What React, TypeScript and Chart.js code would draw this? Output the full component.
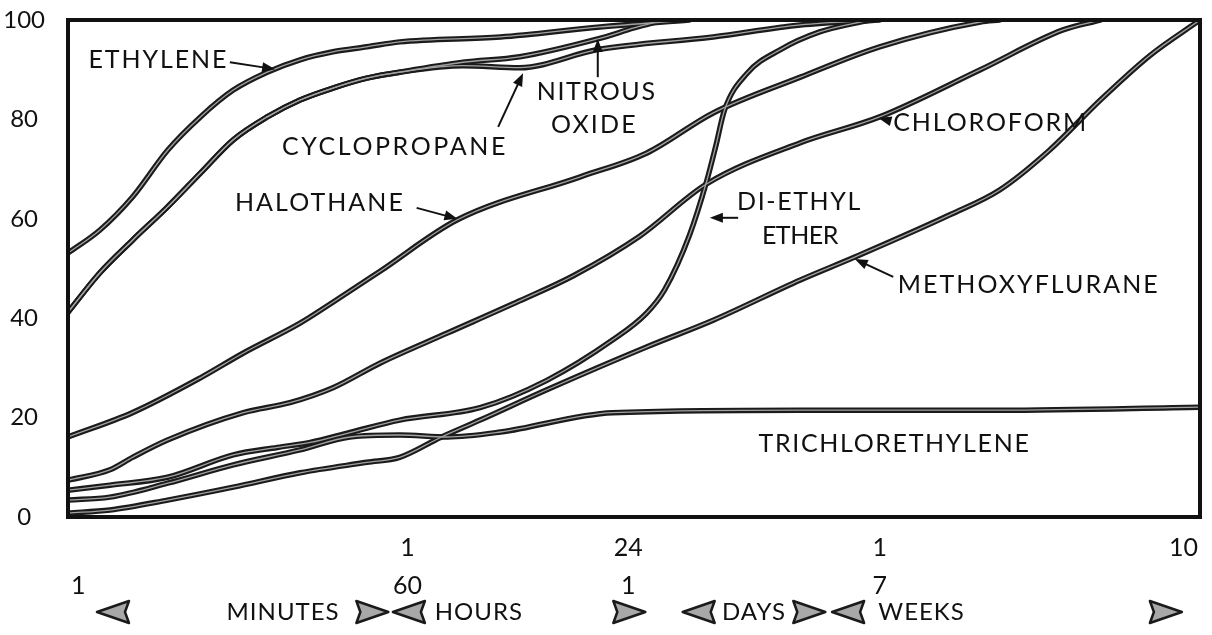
import React, { useEffect, useRef } from 'react';
import { Chart, registerables } from 'chart.js';

Chart.register(...registerables);

// x values are positions along the (non-uniform) time axis, 0..100
const ethylene = [[0, 53.1], [2.8, 57.7], [5.7, 64.4], [8.8, 73.8], [11.7, 80.5], [14.6, 85.9], [17.6, 89.5], [20.5, 92], [23.4, 93.6], [26.4, 94.6], [29.3, 95.6], [38.2, 96.6], [47, 98.6], [54.9, 100]];
const cyclopropane = [[0, 41.2], [2.8, 49.1], [5.7, 55.7], [8.8, 62.4], [11.7, 69.2], [14.6, 75.9], [17.6, 80.5], [20.5, 83.9], [23.4, 86.3], [26.4, 88.3], [29.3, 89.5], [34.9, 90.8], [39.9, 90.4], [46.7, 94], [57, 96.6], [64.7, 99], [71.7, 100]];
const nitrousOxide = [[0, 41.2], [2.8, 49.1], [5.7, 55.7], [8.8, 62.4], [11.7, 69.2], [14.6, 75.9], [17.6, 80.5], [20.5, 83.9], [23.4, 86.3], [26.4, 88.3], [29.3, 89.5], [34.9, 91.5], [39.9, 92.6], [46.8, 96.2], [50, 98.4], [52.6, 100]];
const halothane = [[0, 16.1], [5.7, 21], [11.7, 28], [15.5, 33], [20.5, 39], [23.4, 43.2], [27.6, 49.5], [34.4, 59.8], [45.2, 68.4], [51.1, 73.2], [57, 81.3], [64.7, 88.5], [71.7, 94.6], [80.6, 99.6], [82.3, 100]];
const chloroform = [[0, 7.4], [3.7, 9.5], [5.7, 12], [8.8, 15.5], [15.5, 21], [19.6, 23], [23.4, 26], [27.6, 31], [33.5, 37], [39.9, 43.5], [44.6, 48.5], [50.5, 56.5], [56.4, 67], [64.7, 75.3], [71.7, 80.5], [80.6, 90], [87.9, 98], [91.2, 100]];
const diEthylEther = [[0, 5.4], [3.7, 6.4], [8.8, 8], [14.6, 12.5], [18.5, 14], [21.4, 15], [24.9, 17], [29.3, 19.5], [36.4, 22], [42.3, 27.5], [48.1, 35.6], [51.1, 41], [52.7, 45.7], [54.9, 56.7], [56.4, 67.4], [57.2, 74.4], [58, 81.9], [60, 89.3], [62.9, 94], [66.4, 97.6], [70.8, 100]];
const methoxyflurane = [[0, 0.8], [3.7, 1.4], [8.8, 3.4], [14.6, 6], [20.5, 8.9], [26.4, 11], [29.3, 12], [32.9, 16], [36.4, 19.5], [42.3, 25.6], [51.1, 34.2], [57, 39.6], [64.7, 47.7], [69.5, 52.3], [77.9, 60.8], [82.3, 65.8], [86.7, 73.8], [91.2, 83.9], [95.6, 92.9], [100, 100]];
const trichlorethylene = [[0, 3.4], [3.7, 4], [8.8, 6.8], [14.6, 10.5], [20.5, 13.5], [24.9, 16.1], [29.3, 16.5], [33.5, 16.1], [38.2, 17.1], [48.1, 21], [64.7, 21.5], [82.3, 21.5], [100, 22.1]];

const seriesNames = ['Ethylene', 'Cyclopropane', 'Nitrous oxide', 'Halothane', 'Chloroform', 'Di-ethyl ether', 'Methoxyflurane', 'Trichlorethylene'];
const seriesData = [ethylene, cyclopropane, nitrousOxide, halothane, chloroform, diEthylEther, methoxyflurane, trichlorethylene];

const yTicks = [0, 20, 40, 60, 80, 100];
const xTickPositions = [0, 30, 49.5, 71.7, 100];
const xTickUpper = ['', '1', '24', '1', '10'];
const xTickLower = ['1', '60', '1', '7', ''];

const unitNames = ['MINUTES', 'HOURS', 'DAYS', 'WEEKS'];
const unitNameCenters = [19.0, 36.3, 60.6, 75.4];
const unitArrowTips = [2.56, 28.3, 28.7, 51.0, 54.3, 66.9, 67.5, 98.4];
const unitArrowDirs = [-1, 1, -1, 1, -1, 1, -1, 1];

const labelTexts = ['ETHYLENE', 'CYCLOPROPANE', 'NITROUS', 'OXIDE', 'HALOTHANE', 'DI-ETHYL', 'ETHER', 'CHLOROFORM', 'METHOXYFLURANE', 'TRICHLORETHYLENE'];
const labelAnchors = [[1.8, 92.0], [18.9, 74.4], [46.7, 85.5], [46.5, 78.9], [14.75, 63.2], [59.1, 63.4], [61.3, 56.5], [72.9, 79.3], [73.3, 46.7], [61.0, 14.7]];
const labelAligns = ['left', 'left', 'center', 'center', 'left', 'left', 'left', 'left', 'left', 'left'];
const labelWidths = [140, 226, 120, 87, 170, 125, 76, 195, 262, 272];

const pointerFrom = [[14.3, 91.5], [38.0, 78.5], [46.8, 88.5], [30.8, 62.2], [59.2, 60.2], [72.6, 79.7], [72.9, 48.3]];
const pointerTo = [[18.3, 90.1], [40.2, 89.3], [46.8, 96.2], [34.4, 60.0], [56.7, 60.2], [71.6, 80.3], [69.5, 51.9]];

const FONT = 'Lato, "Open Sans", sans-serif';

function fitText(ctx: CanvasRenderingContext2D, text: string, target: number) {
  (ctx as any).letterSpacing = '0px';
  const w0 = ctx.measureText(text).width;
  let s = (target - w0) / text.length;
  s = Math.max(-1, Math.min(6, s));
  (ctx as any).letterSpacing = s.toFixed(2) + 'px';
}

function drawPointer(ctx: CanvasRenderingContext2D, x1: number, y1: number, x2: number, y2: number) {
  const ang = Math.atan2(y2 - y1, x2 - x1);
  const hl = 13, hw = 5;
  ctx.beginPath();
  ctx.moveTo(x1, y1);
  ctx.lineTo(x2 - Math.cos(ang) * hl * 0.8, y2 - Math.sin(ang) * hl * 0.8);
  ctx.lineWidth = 2;
  ctx.strokeStyle = '#111';
  ctx.stroke();
  ctx.beginPath();
  ctx.moveTo(x2, y2);
  ctx.lineTo(x2 - Math.cos(ang) * hl - Math.sin(ang) * hw, y2 - Math.sin(ang) * hl + Math.cos(ang) * hw);
  ctx.lineTo(x2 - Math.cos(ang) * hl + Math.sin(ang) * hw, y2 - Math.sin(ang) * hl - Math.cos(ang) * hw);
  ctx.closePath();
  ctx.fillStyle = '#111';
  ctx.fill();
}

function drawPennant(ctx: CanvasRenderingContext2D, tipX: number, cy: number, dir: number) {
  const len = 32, h = 11, notch = 4;
  const bx = tipX - dir * len;
  ctx.beginPath();
  ctx.moveTo(tipX, cy);
  ctx.lineTo(bx, cy - h);
  ctx.lineTo(bx + dir * notch, cy);
  ctx.lineTo(bx, cy + h);
  ctx.closePath();
  ctx.fillStyle = '#a8a8a8';
  ctx.fill();
  ctx.lineWidth = 2.5;
  ctx.strokeStyle = '#1a1a1a';
  ctx.lineJoin = 'round';
  ctx.stroke();
}

const annotatePlugin = {
  id: 'annotate',
  afterDraw(chart: any) {
    const { ctx, chartArea, scales } = chart;
    const xs = scales.x, ys = scales.y;
    ctx.save();
    // frame
    ctx.lineWidth = 4;
    ctx.strokeStyle = '#111';
    ctx.strokeRect(chartArea.left, chartArea.top, chartArea.right - chartArea.left, chartArea.bottom - chartArea.top);

    // x tick labels (two rows)
    ctx.fillStyle = '#111';
    ctx.font = `25px ${FONT}`;
    ctx.textBaseline = 'middle';
    (ctx as any).letterSpacing = '0px';
    const row1 = chartArea.bottom + 31;
    const row2 = chartArea.bottom + 69;
    const row3 = chartArea.bottom + 95;
    xTickPositions.forEach((p, i) => {
      const px = xs.getPixelForValue(p);
      let align: CanvasTextAlign = 'center';
      let dx = 0;
      if (i === 0) { align = 'left'; dx = 3; }
      if (i === xTickPositions.length - 1) { align = 'right'; dx = -2; }
      ctx.textAlign = align;
      if (xTickUpper[i]) ctx.fillText(xTickUpper[i], px + dx, row1);
      if (xTickLower[i]) ctx.fillText(xTickLower[i], px + dx, row2);
    });

    // unit row
    ctx.font = `24px ${FONT}`;
    ctx.textAlign = 'center';
    (ctx as any).letterSpacing = '1px';
    unitNames.forEach((n, i) => {
      ctx.fillText(n, xs.getPixelForValue(unitNameCenters[i]), row3);
    });
    (ctx as any).letterSpacing = '0px';
    unitArrowTips.forEach((t, i) => drawPennant(ctx, xs.getPixelForValue(t), row3, unitArrowDirs[i]));

    // curve labels
    ctx.fillStyle = '#111';
    ctx.font = `25px ${FONT}`;
    labelTexts.forEach((t, i) => {
      fitText(ctx, t, labelWidths[i]);
      ctx.textAlign = labelAligns[i] as CanvasTextAlign;
      ctx.fillText(t, xs.getPixelForValue(labelAnchors[i][0]), ys.getPixelForValue(labelAnchors[i][1]));
    });
    (ctx as any).letterSpacing = '0px';
    pointerFrom.forEach((f, i) => {
      drawPointer(ctx, xs.getPixelForValue(f[0]), ys.getPixelForValue(f[1]), xs.getPixelForValue(pointerTo[i][0]), ys.getPixelForValue(pointerTo[i][1]));
    });
    ctx.restore();
  },
};

export default function App() {
  const ref = useRef<HTMLCanvasElement>(null);
  useEffect(() => {
    const canvas = ref.current;
    if (!canvas) return;
    Chart.defaults.font.family = FONT;
    const toPts = (arr: number[][]) => arr.map(([x, y]) => ({ x, y }));
    const datasets: any[] = [];
    seriesData.forEach((d, i) => {
      datasets.push({
        label: seriesNames[i],
        data: toPts(d),
        borderColor: '#1b1b1b',
        borderWidth: 5.5,
        pointRadius: 0,
        cubicInterpolationMode: 'monotone',
        fill: false,
        order: 2,
        borderCapStyle: 'round',
        borderJoinStyle: 'round',
      });
      datasets.push({
        label: seriesNames[i] + ' (core)',
        data: toPts(d),
        borderColor: '#a2a2a2',
        borderWidth: 1.3,
        pointRadius: 0,
        cubicInterpolationMode: 'monotone',
        fill: false,
        order: 1,
      });
    });
    const chart = new Chart(canvas, {
      type: 'line',
      data: { datasets },
      options: {
        animation: false,
        responsive: false,
        events: [],
        layout: { padding: { left: 0, top: 20, right: 12, bottom: 118 } },
        plugins: { legend: { display: false }, tooltip: { enabled: false } },
        scales: {
          x: { type: 'linear', min: 0, max: 100, display: false },
          y: {
            min: 0,
            max: 100,
            afterBuildTicks: (s: any) => { s.ticks = yTicks.map((v) => ({ value: v })); },
            afterFit: (s: any) => { s.width = 68; s.paddingTop = 0; s.paddingBottom = 0; },
            grid: { display: false },
            border: { display: false },
            ticks: { font: { family: FONT, size: 24 }, color: '#111', padding: 15, crossAlign: 'center' },
          },
        },
      } as any,
      plugins: [annotatePlugin],
    });
    return () => chart.destroy();
  }, []);
  return (
    <div style={{ position: 'fixed', left: 0, top: 0, width: 1212, height: 635, background: '#fff' }}>
      <canvas ref={ref} width={1212} height={635} style={{ display: 'block' }} />
    </div>
  );
}
